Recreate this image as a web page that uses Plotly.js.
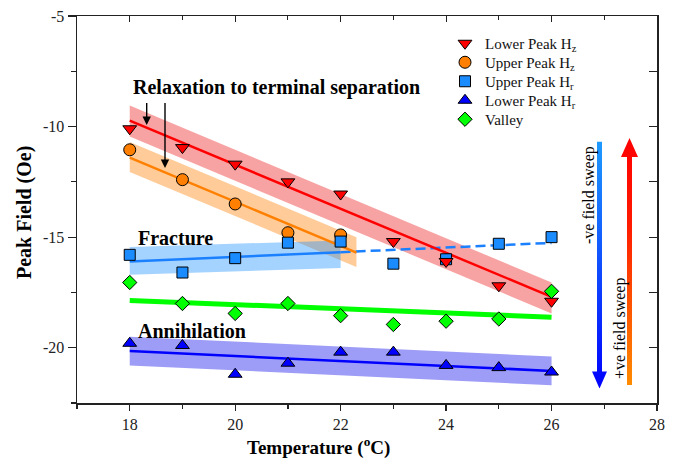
<!DOCTYPE html>
<html><head><meta charset="utf-8">
<script src="https://cdn.plot.ly/plotly-3.0.1.min.js"></script>
<style>html,body{margin:0;padding:0;background:#fff}#chart{width:679px;height:462px}</style>
</head><body><div id="chart"></div>
<script>
// ---- data ----
const temps = [18, 19, 20, 21, 22, 23, 24, 25, 26];
const lowerPeakHz = [-10.1, -10.95, -11.7, -12.5, -13.05, -15.2, -16.1, -17.2, -17.9];
const upperPeakHzT = [18, 19, 20, 21, 22];
const upperPeakHz = [-11.05, -12.4, -13.5, -14.8, -14.9];
const upperPeakHr = [-15.8, -16.6, -15.95, -15.25, -15.2, -16.2, -16.0, -15.3, -15.0];
const lowerPeakHr = [-19.8, -19.9, -21.2, -20.7, -20.2, -20.2, -20.8, -20.9, -21.1];
const valley = [-17.05, -18.0, -18.45, -18.0, -18.55, -18.95, -18.8, -18.7, -17.45];

// fits and confidence bands (endpoints)
const fitT = [18, 26];
const lowerHzFit = [-9.73, -17.7];
const lowerHzBandTop = [-9.05, -17.05];
const lowerHzBandBot = [-10.45, -18.45];
const upperHzFitT = [18, 22.3];
const upperHzFit = [-11.4, -15.7];
const upperHzBandTop = [-10.7, -15.0];
const upperHzBandBot = [-12.05, -16.35];
const upperHrFitT = [18, 22];
const upperHrFit = [-16.1, -15.68];
const upperHrDashT = [22, 26];
const upperHrDash = [-15.68, -15.26];
const upperHrBandTop = [-15.45, -15.15];
const upperHrBandBot = [-16.7, -16.4];
const valleyFit = [-17.86, -18.62];
const lowerHrFit = [-20.15, -21.05];
const lowerHrBandTop = [-19.5, -20.4];
const lowerHrBandBot = [-20.8, -21.7];

const labels = ['Lower Peak H<sub>z</sub>', 'Upper Peak H<sub>z</sub>', 'Upper Peak H<sub>r</sub>', 'Lower Peak H<sub>r</sub>', 'Valley'];
const xTickVals = [18, 20, 22, 24, 26, 28];
const xTickText = ['18', '20', '22', '24', '26', '28'];
const yTickVals = [-5, -10, -15, -20];
const yTickText = ['-5', '-10', '-15', '-20'];

// ---- layout constants ----
const ML = 77, MR = 22, MT = 16, MB = 59, W = 679, H = 462;
const PW = W - ML - MR, PH = H - MT - MB;
const P = px => (px - ML) / PW;
const Q = py => 1 - (py - MT) / PH;
const FONT = "'Liberation Serif', 'Times New Roman', serif";

function band(t, top, bot, color) {
  return {x: [t[0], t[1], t[1], t[0], t[0]], y: [top[0], top[1], bot[1], bot[0], top[0]],
    type: 'scatter', mode: 'lines', fill: 'toself', fillcolor: color, line: {width: 0},
    hoverinfo: 'skip', showlegend: false};
}
function line(t, y, color, width, dash) {
  return {x: t, y: y, type: 'scatter', mode: 'lines', line: {color: color, width: width, dash: dash || 'solid'},
    hoverinfo: 'skip', showlegend: false};
}
function pts(t, y, name, symbol, color, size, leg) {
  return {x: t, y: y, name: name, type: 'scatter', mode: 'markers', legend: leg,
    marker: {symbol: symbol, color: color, size: size, line: {color: '#000', width: 1}}};
}

const traces = [
  band(upperHzFitT, upperHzBandTop, upperHzBandBot, 'rgba(255,128,0,0.4)'),
  band(upperHrFitT, upperHrBandTop, upperHrBandBot, 'rgba(30,144,255,0.4)'),
  band(fitT, lowerHzBandTop, lowerHzBandBot, 'rgba(240,50,50,0.45)'),
  band(fitT, lowerHrBandTop, lowerHrBandBot, 'rgba(60,60,240,0.5)'),
  line(fitT, valleyFit, '#00ff00', 5),
  line(fitT, lowerHrFit, '#0000ff', 2.5),
  line(upperHrFitT, upperHrFit, '#1a80ff', 2.5),
  line(upperHrDashT, upperHrDash, '#1a80ff', 2.5, '10px,5px'),
  line(upperHzFitT, upperHzFit, '#ff8000', 2.5),
  line(fitT, lowerHzFit, '#ff0000', 2.5),
  pts(upperPeakHzT, upperPeakHz, labels[1], 'circle', '#ff8000', 12, 'legend2'),
  pts(temps, upperPeakHr, labels[2], 'square', '#1a8cff', 11, 'legend3'),
  pts(temps, lowerPeakHz, labels[0], 'triangle-down', '#ff0000', 12, 'legend'),
  pts(temps, lowerPeakHr, labels[3], 'triangle-up', '#0000ff', 12, 'legend4'),
  pts(temps, valley, labels[4], 'diamond', '#00ff00', 11, 'legend5'),
  {x: [17], y: [-5], xaxis: 'x2', yaxis: 'y2', type: 'scatter', mode: 'markers', marker: {opacity: 0}, showlegend: false, hoverinfo: 'skip'}
];

function arrowSVG(w, h, shaftW, headH, up, stops) {
  const sx = (w - shaftW) / 2;
  let shapes;
  if (up) {
    shapes = `<polygon points="0,${headH} ${w},${headH} ${w/2},0" fill="url(#g)"/><rect x="${sx}" y="${headH - 0.5}" width="${shaftW}" height="${h - headH + 0.5}" fill="url(#g)"/>`;
  } else {
    shapes = `<rect x="${sx}" y="0" width="${shaftW}" height="${h - headH + 0.5}" fill="url(#g)"/><polygon points="0,${h - headH} ${w},${h - headH} ${w/2},${h}" fill="url(#g)"/>`;
  }
  const st = stops.map(s => `<stop offset="${s[0]}" stop-color="${s[1]}"/>`).join('');
  const svg = `<svg xmlns="http://www.w3.org/2000/svg" width="${w}" height="${h}" viewBox="0 0 ${w} ${h}" preserveAspectRatio="none"><defs><linearGradient id="g" gradientUnits="userSpaceOnUse" x1="0" y1="0" x2="0" y2="${h}">${st}</linearGradient></defs>${shapes}</svg>`;
  return 'data:image/svg+xml;base64,' + btoa(svg);
}

const legendRows = [43.5, 62.5, 81.5, 100.5, 119.5];
function leg(row) {
  return {x: P(445), y: Q(legendRows[row]), xanchor: 'left', yanchor: 'middle', bgcolor: 'rgba(0,0,0,0)',
    font: {family: FONT, size: 15, color: '#111'}, itemwidth: 30, borderwidth: 0};
}

const axisFont = {family: FONT, size: 16, color: '#222'};
const layout = {
  width: W, height: H,
  margin: {l: ML, r: MR, t: MT, b: MB, pad: 0},
  paper_bgcolor: '#fff', plot_bgcolor: '#fff',
  font: {family: FONT, color: '#000'},
  showlegend: true,
  legend: leg(0), legend2: leg(1), legend3: leg(2), legend4: leg(3), legend5: leg(4),
  xaxis: {range: [17, 28], tickmode: 'array', tickvals: xTickVals, ticktext: xTickText,
    ticks: 'outside', ticklen: 6, tickwidth: 1.2, tickcolor: '#222',
    showline: true, linecolor: '#222', linewidth: 1.5, showgrid: false, zeroline: false,
    minor: {tickmode: 'linear', tick0: 17, dtick: 1, ticks: 'outside', ticklen: 4, tickcolor: '#222', showgrid: false},
    tickfont: axisFont},
  yaxis: {range: [-22.5, -5], tickmode: 'array', tickvals: yTickVals, ticktext: yTickText,
    ticks: 'outside', ticklen: 8, tickwidth: 1.2, tickcolor: '#222',
    showline: true, linecolor: '#222', linewidth: 1.5, showgrid: false, zeroline: false,
    minor: {tickmode: 'linear', tick0: -5, dtick: 2.5, ticks: 'outside', ticklen: 5, tickcolor: '#222', showgrid: false},
    tickfont: axisFont},
  xaxis2: {overlaying: 'x', side: 'top', range: [17, 28], dtick: 2, tick0: 18, ticks: 'inside', ticklen: 6, tickcolor: '#222',
    showline: true, linecolor: '#222', linewidth: 1.5, showticklabels: false, showgrid: false, zeroline: false,
    minor: {dtick: 1, ticks: 'inside', ticklen: 4, tickcolor: '#222', showgrid: false}},
  yaxis2: {overlaying: 'y', side: 'right', range: [-22.5, -5], dtick: 2.5, tick0: -5, ticks: 'inside', ticklen: 8, tickcolor: '#222',
    showline: true, linecolor: '#222', linewidth: 1.5, showticklabels: false, showgrid: false, zeroline: false},
  annotations: [
    {xref: 'paper', yref: 'paper', x: P(318), y: Q(447), text: '<b>Temperature (<sup>o</sup>C)</b>', showarrow: false,
      font: {family: FONT, size: 19, color: '#000'}, xanchor: 'center', yanchor: 'middle'},
    {xref: 'paper', yref: 'paper', x: P(24), y: Q(213), text: '<b>Peak Field (Oe)</b>', showarrow: false, textangle: -90,
      font: {family: FONT, size: 20, color: '#000'}, xanchor: 'center', yanchor: 'middle'},
    {xref: 'paper', yref: 'paper', x: P(276), y: Q(87.5), text: '<b>Relaxation to terminal separation</b>', showarrow: false,
      font: {family: FONT, size: 20, color: '#000'}, xanchor: 'center', yanchor: 'middle'},
    {xref: 'paper', yref: 'paper', x: P(175.5), y: Q(238.5), text: '<b>Fracture</b>', showarrow: false,
      font: {family: FONT, size: 20, color: '#000'}, xanchor: 'center', yanchor: 'middle'},
    {xref: 'paper', yref: 'paper', x: P(192), y: Q(331), text: '<b>Annihilation</b>', showarrow: false,
      font: {family: FONT, size: 20, color: '#000'}, xanchor: 'center', yanchor: 'middle'},
    {xref: 'paper', yref: 'paper', x: P(146.7), y: Q(125), text: '', showarrow: true, ax: 0, ay: -23.5,
      arrowhead: 2, arrowsize: 1.2, arrowwidth: 1.4, arrowcolor: '#000'},
    {xref: 'paper', yref: 'paper', x: P(165), y: Q(168), text: '', showarrow: true, ax: 0, ay: -66.5,
      arrowhead: 2, arrowsize: 1.2, arrowwidth: 1.4, arrowcolor: '#000'},
    {xref: 'paper', yref: 'paper', x: P(589), y: Q(195), text: '-ve field sweep', showarrow: false, textangle: -90,
      font: {family: FONT, size: 16, color: '#000'}, xanchor: 'center', yanchor: 'middle'},
    {xref: 'paper', yref: 'paper', x: P(620), y: Q(329), text: '+ve field sweep', showarrow: false, textangle: -90,
      font: {family: FONT, size: 16, color: '#000'}, xanchor: 'center', yanchor: 'middle'}
  ],
  images: [
    {source: arrowSVG(15, 247, 5, 17, false, [[0, '#1e9bff'], [1, '#0000ff']]), xref: 'paper', yref: 'paper',
      x: P(592), y: Q(141.5), sizex: 15 / PW, sizey: 247 / PH, xanchor: 'left', yanchor: 'top', sizing: 'stretch', layer: 'above'},
    {source: arrowSVG(17, 247, 5, 19, true, [[0, '#ff0000'], [0.35, '#ff1a00'], [1, '#ff8c00']]), xref: 'paper', yref: 'paper',
      x: P(621), y: Q(138), sizex: 17 / PW, sizey: 247 / PH, xanchor: 'left', yanchor: 'top', sizing: 'stretch', layer: 'above'}
  ]
};

Plotly.newPlot('chart', traces, layout, {displayModeBar: false, staticPlot: true});
</script></body></html>
